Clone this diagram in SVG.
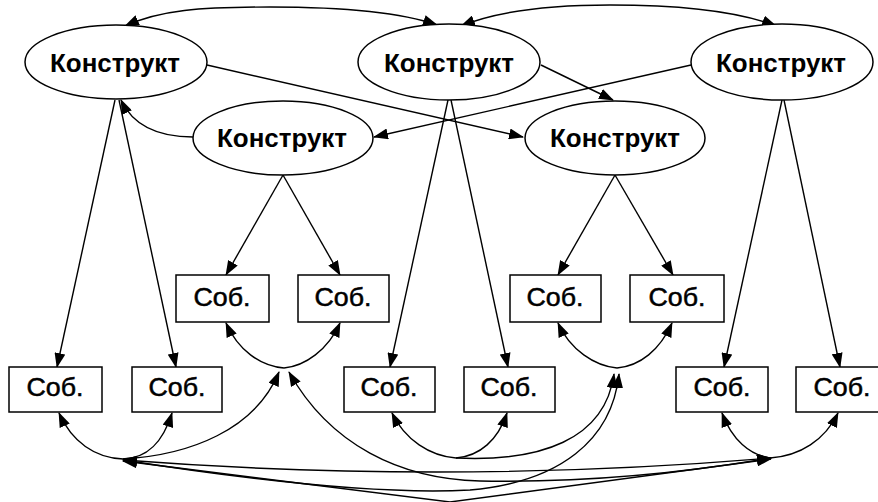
<svg xmlns="http://www.w3.org/2000/svg" width="878" height="502" viewBox="0 0 878 502">
<defs>
<marker id="ah" markerUnits="userSpaceOnUse" markerWidth="15" markerHeight="11" refX="14" refY="5.5" orient="auto-start-reverse">
<path d="M0,0 L15,5.5 L0,11 z" fill="#000"/>
</marker>
<style>
.c{fill:none;stroke:#000;stroke-width:1.4}
.a{marker-end:url(#ah)}
.b{marker-start:url(#ah);marker-end:url(#ah)}
.e{fill:#fff;stroke:#000;stroke-width:1.5}
.k{font-family:"Liberation Sans",Arial,sans-serif;font-weight:bold;font-size:25px;fill:#000}
.s{font-family:"Liberation Sans",Arial,sans-serif;font-size:25px;fill:#000;stroke:#000;stroke-width:0.5}
</style>
</defs>
<rect width="878" height="502" fill="#fff"/>
<g id="connectors">
<path class="c b" d="M125,26 C160,10 200,7 270,7 C340,7 400,12 437,25"/>
<path class="c b" d="M461,26 C500,10 550,5 610,5 C680,5 740,12 776,26"/>
<path class="c a" d="M207,65 L523,137"/>
<path class="c a" d="M691,65 L374,137"/>
<path class="c a" d="M541,65 L613,100"/>
<path class="c a" d="M193,137 C165,137 135,130 121,100"/>
<path class="c a" d="M115,100 L57,367"/>
<path class="c a" d="M119,100 L176,367"/>
<path class="c a" d="M283,175 L226,275"/>
<path class="c a" d="M283,175 L340,275"/>
<path class="c a" d="M615,175 L558,275"/>
<path class="c a" d="M615,175 L673,275"/>
<path class="c a" d="M448,100 L390,367"/>
<path class="c a" d="M451,100 L508,367"/>
<path class="c a" d="M782,100 L724,367"/>
<path class="c a" d="M784,100 L840,367"/>
<path class="c a" d="M123,459 C95,458 72,442 59,413"/>
<path class="c a" d="M123,459 C148,458 163,442 172,413"/>
<path class="c a" d="M284,368 C260,366 238,350 226,323"/>
<path class="c a" d="M284,368 C305,366 328,350 340,323"/>
<path class="c a" d="M617,368 C595,366 570,350 558,323"/>
<path class="c a" d="M617,368 C640,366 660,350 672,323"/>
<path class="c a" d="M456,458 C430,456 405,440 392,413"/>
<path class="c a" d="M456,458 C480,456 498,440 507,413"/>
<path class="c a" d="M770,458 C750,455 732,440 722,413"/>
<path class="c a" d="M770,458 C800,456 825,440 838,413"/>
<path class="c a" d="M123,459 C190,455 255,430 279,372"/>
<path class="c b" d="M771,458 C700,470 600,483 480,481 C400,479 330,445 289,372"/>
<path class="c a" d="M456,458 C540,462 605,440 614,374"/>
<path class="c b" d="M123,460 C250,480 380,495 470,490 C560,482 612,440 619,374"/>
<path class="c b" d="M123,460 Q450,485 771,458"/>
<path class="c b" d="M123,461 L450,502 L771,459"/>
</g>
<g id="e1"><ellipse class="e" cx="116" cy="62" rx="91" ry="37"/><text class="k" x="115" y="72" text-anchor="middle" textLength="130" lengthAdjust="spacingAndGlyphs">Конструкт</text></g>
<g id="e2"><ellipse class="e" cx="449" cy="62" rx="91" ry="38"/><text class="k" x="449" y="72" text-anchor="middle" textLength="130" lengthAdjust="spacingAndGlyphs">Конструкт</text></g>
<g id="e3"><ellipse class="e" cx="782" cy="62" rx="91" ry="38"/><text class="k" x="781" y="72" text-anchor="middle" textLength="130" lengthAdjust="spacingAndGlyphs">Конструкт</text></g>
<g id="e4"><ellipse class="e" cx="283" cy="138" rx="90" ry="37"/><text class="k" x="282" y="147" text-anchor="middle" textLength="130" lengthAdjust="spacingAndGlyphs">Конструкт</text></g>
<g id="e5"><ellipse class="e" cx="615" cy="138" rx="90" ry="37"/><text class="k" x="615" y="147" text-anchor="middle" textLength="130" lengthAdjust="spacingAndGlyphs">Конструкт</text></g>
<g id="b1"><rect class="e" x="176" y="275" width="93" height="47"/><text class="s" x="222" y="306" text-anchor="middle" textLength="57" lengthAdjust="spacingAndGlyphs">Соб.</text></g>
<g id="b2"><rect class="e" x="298" y="275" width="91" height="47"/><text class="s" x="343" y="306" text-anchor="middle" textLength="57" lengthAdjust="spacingAndGlyphs">Соб.</text></g>
<g id="b3"><rect class="e" x="510" y="275" width="91" height="47"/><text class="s" x="555" y="306" text-anchor="middle" textLength="57" lengthAdjust="spacingAndGlyphs">Соб.</text></g>
<g id="b4"><rect class="e" x="630" y="275" width="94" height="47"/><text class="s" x="677" y="306" text-anchor="middle" textLength="57" lengthAdjust="spacingAndGlyphs">Соб.</text></g>
<g id="b5"><rect class="e" x="9" y="367" width="93" height="45"/><text class="s" x="55" y="396" text-anchor="middle" textLength="57" lengthAdjust="spacingAndGlyphs">Соб.</text></g>
<g id="b6"><rect class="e" x="132" y="367" width="90" height="45"/><text class="s" x="177" y="396" text-anchor="middle" textLength="57" lengthAdjust="spacingAndGlyphs">Соб.</text></g>
<g id="b7"><rect class="e" x="344" y="367" width="91" height="45"/><text class="s" x="389" y="396" text-anchor="middle" textLength="57" lengthAdjust="spacingAndGlyphs">Соб.</text></g>
<g id="b8"><rect class="e" x="464" y="367" width="91" height="45"/><text class="s" x="509" y="396" text-anchor="middle" textLength="57" lengthAdjust="spacingAndGlyphs">Соб.</text></g>
<g id="b9"><rect class="e" x="676" y="367" width="92" height="45"/><text class="s" x="722" y="396" text-anchor="middle" textLength="57" lengthAdjust="spacingAndGlyphs">Соб.</text></g>
<g id="b10"><rect class="e" x="796" y="367" width="92" height="45"/><text class="s" x="842" y="396" text-anchor="middle" textLength="57" lengthAdjust="spacingAndGlyphs">Соб.</text></g>
</svg>
